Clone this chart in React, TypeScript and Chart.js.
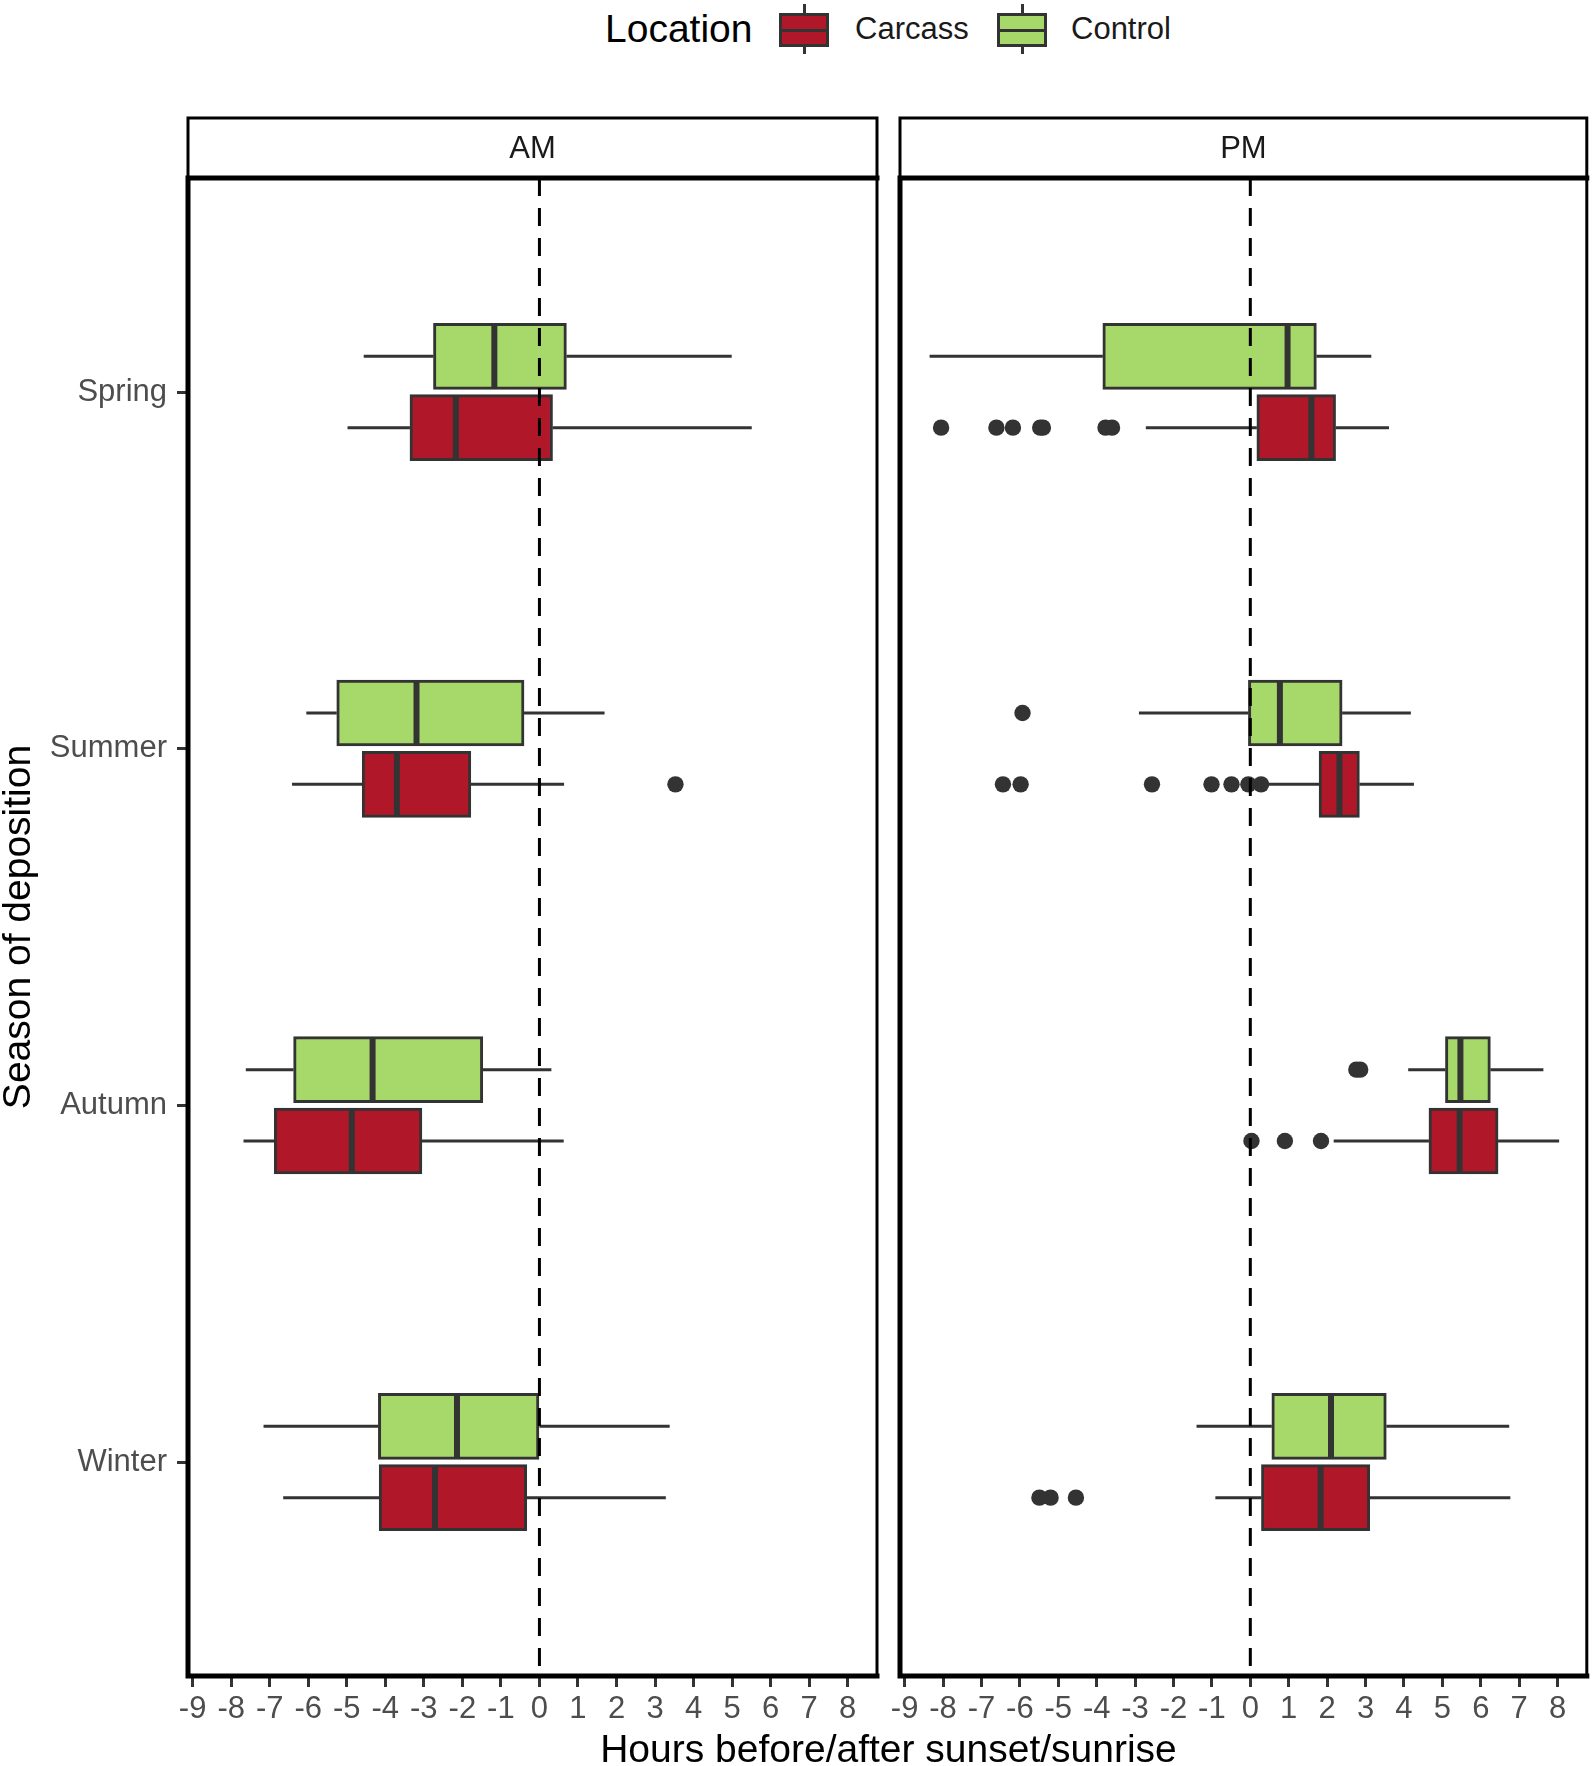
import React, { useEffect, useRef } from "react";
import { Chart, registerables } from "chart.js";

Chart.register(...registerables);

// ---------------- data ----------------
const SEASONS = ["Spring", "Summer", "Autumn", "Winter"];
const PERIODS = ["AM", "PM"];
const LOCATIONS = ["Carcass", "Control"];
const X_TICKS = [-9, -8, -7, -6, -5, -4, -3, -2, -1, 0, 1, 2, 3, 4, 5, 6, 7, 8];

// [lower whisker, Q1, median, Q3, upper whisker] per season (hours)
const AM_CONTROL = [
  [-4.56, -2.75, -1.17, 0.7, 4.99],
  [-6.05, -5.26, -3.19, -0.4, 1.69],
  [-7.62, -6.38, -4.33, -1.47, 0.31],
  [-7.16, -4.18, -2.14, 0.0, 3.38],
];
const AM_CARCASS = [
  [-4.98, -3.36, -2.17, 0.34, 5.51],
  [-6.42, -4.6, -3.7, -1.78, 0.64],
  [-7.68, -6.88, -4.87, -3.05, 0.63],
  [-6.65, -4.16, -2.71, -0.33, 3.28],
];
const PM_CONTROL = [
  [-8.35, -3.84, 0.97, 1.72, 3.15],
  [-2.9, -0.05, 0.77, 2.39, 4.18],
  [4.11, 5.08, 5.47, 6.25, 7.63],
  [-1.4, 0.56, 2.1, 3.54, 6.74],
];
const PM_CARCASS = [
  [-2.72, 0.17, 1.59, 2.22, 3.61],
  [0.36, 1.79, 2.32, 2.84, 4.26],
  [2.17, 4.65, 5.45, 6.45, 8.04],
  [-0.91, 0.29, 1.83, 3.11, 6.77],
];

// outliers per season
const AM_CONTROL_OUT = [[], [], [], []];
const AM_CARCASS_OUT = [[], [3.53], [], []];
const PM_CONTROL_OUT = [[], [-5.93], [2.76, 2.86], []];
const PM_CARCASS_OUT = [
  [-8.05, -6.61, -6.18, -5.47, -5.4, -3.77, -3.6],
  [-6.44, -5.98, -2.56, -1.01, -0.49, -0.05, 0.28],
  [0.03, 0.9, 1.84],
  [-5.49, -5.2, -4.54],
];

// ---------------- styles ----------------
const FILL: Record<string, string> = { Carcass: "#B0182A", Control: "#A6D96A" };
const DODGE: Record<string, number> = { Carcass: 0.1, Control: -0.1 };
const HALF_BOX = 0.09;
const LINE = "#333333";
const FONT = "'Liberation Sans', Arial, Helvetica, sans-serif";
const X_MIN = -9.12;
const X_MAX = 8.76;
const STRIP_H = 60;

const stripPlugin = {
  id: "facetStrip",
  afterDraw(chart: any, _args: any, opts: any) {
    const { ctx, chartArea } = chart;
    const { left, right, top, bottom } = chartArea;
    ctx.save();
    // strip
    ctx.fillStyle = "#FFFFFF";
    ctx.fillRect(left, top - STRIP_H, right - left, STRIP_H);
    ctx.strokeStyle = "#000000";
    ctx.lineWidth = 3;
    ctx.strokeRect(left, top - STRIP_H, right - left, STRIP_H);
    ctx.fillStyle = "#1A1A1A";
    ctx.font = `31px ${FONT}`;
    ctx.textAlign = "center";
    ctx.textBaseline = "middle";
    ctx.fillText(opts.label, (left + right) / 2, top - STRIP_H / 2 + 1);
    // panel border
    ctx.lineWidth = 3;
    ctx.strokeRect(left, top, right - left, bottom - top);
    // axis lines + strip/panel join (thicker)
    ctx.lineWidth = 5;
    ctx.lineCap = "square";
    ctx.beginPath();
    ctx.moveTo(left, top);
    ctx.lineTo(left, bottom);
    ctx.lineTo(right, bottom);
    ctx.moveTo(left, top);
    ctx.lineTo(right, top);
    ctx.stroke();
    ctx.restore();
  },
};

function buildDatasets(stats: Record<string, number[][]>, outs: Record<string, number[][]>) {
  const ds: any[] = [];
  for (const loc of LOCATIONS) {
    ds.push({
      type: "bar",
      indexAxis: "y",
      label: loc,
      data: stats[loc].map((s, i) => ({ y: i + 1 + DODGE[loc], x: [s[1], s[3]] })),
      backgroundColor: FILL[loc],
      borderColor: LINE,
      borderWidth: 3,
      borderSkipped: false,
      barThickness: 66,
      grouped: false,
      order: 4,
    });
  }
  const whisk: any[] = [];
  const meds: any[] = [];
  const pts: any[] = [];
  for (const loc of LOCATIONS) {
    stats[loc].forEach((s, i) => {
      const y = i + 1 + DODGE[loc];
      whisk.push({ x: s[0], y }, { x: s[1], y }, { x: s[1], y: null });
      whisk.push({ x: s[3], y }, { x: s[4], y }, { x: s[4], y: null });
      meds.push({ x: s[2], y: y - HALF_BOX }, { x: s[2], y: y + HALF_BOX }, { x: s[2], y: null });
    });
    outs[loc].forEach((arr, i) => {
      arr.forEach((v) => pts.push({ x: v, y: i + 1 + DODGE[loc] }));
    });
  }
  ds.push({
    type: "line",
    label: "whiskers",
    data: whisk,
    borderColor: LINE,
    borderWidth: 3,
    pointRadius: 0,
    spanGaps: false,
    fill: false,
    borderCapStyle: "butt",
    order: 3,
  });
  ds.push({
    type: "line",
    label: "medians",
    data: meds,
    borderColor: LINE,
    borderWidth: 6,
    pointRadius: 0,
    spanGaps: false,
    fill: false,
    borderCapStyle: "butt",
    order: 2,
  });
  ds.push({
    type: "scatter",
    label: "outliers",
    data: pts,
    backgroundColor: LINE,
    borderWidth: 0,
    pointRadius: 8.2,
    order: 1,
  });
  ds.push({
    type: "line",
    label: "zero",
    data: [
      { x: 0, y: 0.4 },
      { x: 0, y: 4.6 },
    ],
    borderColor: "#000000",
    borderWidth: 3,
    borderDash: [18, 12],
    pointRadius: 0,
    fill: false,
    order: 0,
  });
  return ds;
}

function makeConfig(period: string, stats: any, outs: any, isLeft: boolean): any {
  return {
    type: "scatter",
    data: { datasets: buildDatasets(stats, outs) },
    plugins: [stripPlugin],
    options: {
      animation: false,
      responsive: false,
      maintainAspectRatio: false,
      events: [],
      layout: { padding: isLeft ? { top: 77, right: 13, left: 0, bottom: 0 } : { top: 77, right: 6, left: 10, bottom: 0 } },
      plugins: {
        legend: { display: false },
        tooltip: { enabled: false },
        facetStrip: { label: period },
      },
      scales: {
        x: {
          type: "linear",
          min: X_MIN,
          max: X_MAX,
          offset: false,
          afterBuildTicks: (scale: any) => {
            scale.ticks = X_TICKS.map((v) => ({ value: v }));
          },
          afterFit: (scale: any) => {
            scale.height = 90;
            scale.paddingLeft = 0;
            scale.paddingRight = 0;
          },
          ticks: {
            autoSkip: false,
            maxRotation: 0,
            minRotation: 0,
            padding: 4,
            color: "#4D4D4D",
            font: { family: FONT, size: 31 },
            callback: (v: any) => String(v),
          },
          grid: {
            display: true,
            drawOnChartArea: false,
            drawTicks: true,
            tickLength: 11,
            tickWidth: 3,
            tickColor: LINE,
            offset: false,
          },
          border: { display: false },
        },
        y: {
          type: "linear",
          display: isLeft,
          reverse: true,
          min: 0.4,
          max: 4.6,
          offset: false,
          afterBuildTicks: (scale: any) => {
            scale.ticks = SEASONS.map((_, i) => ({ value: i + 1 }));
          },
          afterFit: (scale: any) => {
            scale.width = isLeft ? 188 : 0;
            scale.paddingTop = 0;
            scale.paddingBottom = 0;
          },
          ticks: {
            autoSkip: false,
            padding: 10,
            color: "#4D4D4D",
            font: { family: FONT, size: 31 },
            callback: (v: any) => SEASONS[Math.round(v) - 1] ?? "",
          },
          grid: {
            display: true,
            drawOnChartArea: false,
            drawTicks: true,
            tickLength: 11,
            tickWidth: 3,
            tickColor: LINE,
            offset: false,
          },
          border: { display: false },
          title: {
            display: true,
            text: "Season of deposition",
            color: "#000000",
            padding: 0,
            font: { family: FONT, size: 39, lineHeight: 1 },
          },
        },
      },
    },
  };
}

function LegendKey({ left, fill }: { left: number; fill: string }) {
  return (
    <div style={{ position: "absolute", left, top: 0, width: 50, height: 58 }}>
      <div style={{ position: "absolute", left: 23.5, top: 4, width: 3, height: 50, background: LINE }} />
      <div
        style={{
          position: "absolute",
          left: 0,
          top: 13,
          width: 50,
          height: 34,
          boxSizing: "border-box",
          border: `3px solid ${LINE}`,
          background: fill,
        }}
      />
      <div style={{ position: "absolute", left: 0, top: 28.5, width: 50, height: 3, background: LINE }} />
    </div>
  );
}

export default function App() {
  const amRef = useRef<HTMLCanvasElement | null>(null);
  const pmRef = useRef<HTMLCanvasElement | null>(null);

  useEffect(() => {
    Chart.defaults.font.family = FONT;
    const charts: Chart[] = [];
    if (amRef.current) {
      charts.push(
        new Chart(
          amRef.current,
          makeConfig(
            PERIODS[0],
            { Carcass: AM_CARCASS, Control: AM_CONTROL },
            { Carcass: AM_CARCASS_OUT, Control: AM_CONTROL_OUT },
            true
          )
        )
      );
    }
    if (pmRef.current) {
      charts.push(
        new Chart(
          pmRef.current,
          makeConfig(
            PERIODS[1],
            { Carcass: PM_CARCASS, Control: PM_CONTROL },
            { Carcass: PM_CARCASS_OUT, Control: PM_CONTROL_OUT },
            false
          )
        )
      );
    }
    return () => charts.forEach((c) => c.destroy());
  }, []);

  return (
    <div
      style={{
        position: "absolute",
        left: 0,
        top: 0,
        width: 1595,
        height: 1766,
        background: "#FFFFFF",
        fontFamily: FONT,
        overflow: "hidden",
      }}
    >
      {/* legend */}
      <div style={{ position: "absolute", left: 605, top: 9, fontSize: 39, lineHeight: "39px", color: "#000", whiteSpace: "nowrap" }}>
        Location
      </div>
      <LegendKey left={779} fill={FILL.Carcass} />
      <div style={{ position: "absolute", left: 855, top: 13, fontSize: 31, lineHeight: "31px", color: "#1A1A1A", whiteSpace: "nowrap" }}>
        {LOCATIONS[0]}
      </div>
      <LegendKey left={997} fill={FILL.Control} />
      <div style={{ position: "absolute", left: 1071, top: 13, fontSize: 31, lineHeight: "31px", color: "#1A1A1A", whiteSpace: "nowrap" }}>
        {LOCATIONS[1]}
      </div>

      <canvas ref={amRef} width={890} height={1665} style={{ position: "absolute", left: 0, top: 101, width: 890, height: 1665 }} />
      <canvas ref={pmRef} width={705} height={1665} style={{ position: "absolute", left: 890, top: 101, width: 705, height: 1665 }} />

      {/* shared x-axis title */}
      <div
        style={{
          position: "absolute",
          left: 0,
          width: 1777,
          top: 1729,
          textAlign: "center",
          fontSize: 39,
          lineHeight: "39px",
          color: "#000",
          whiteSpace: "nowrap",
        }}
      >
        Hours before/after sunset/sunrise
      </div>
    </div>
  );
}
